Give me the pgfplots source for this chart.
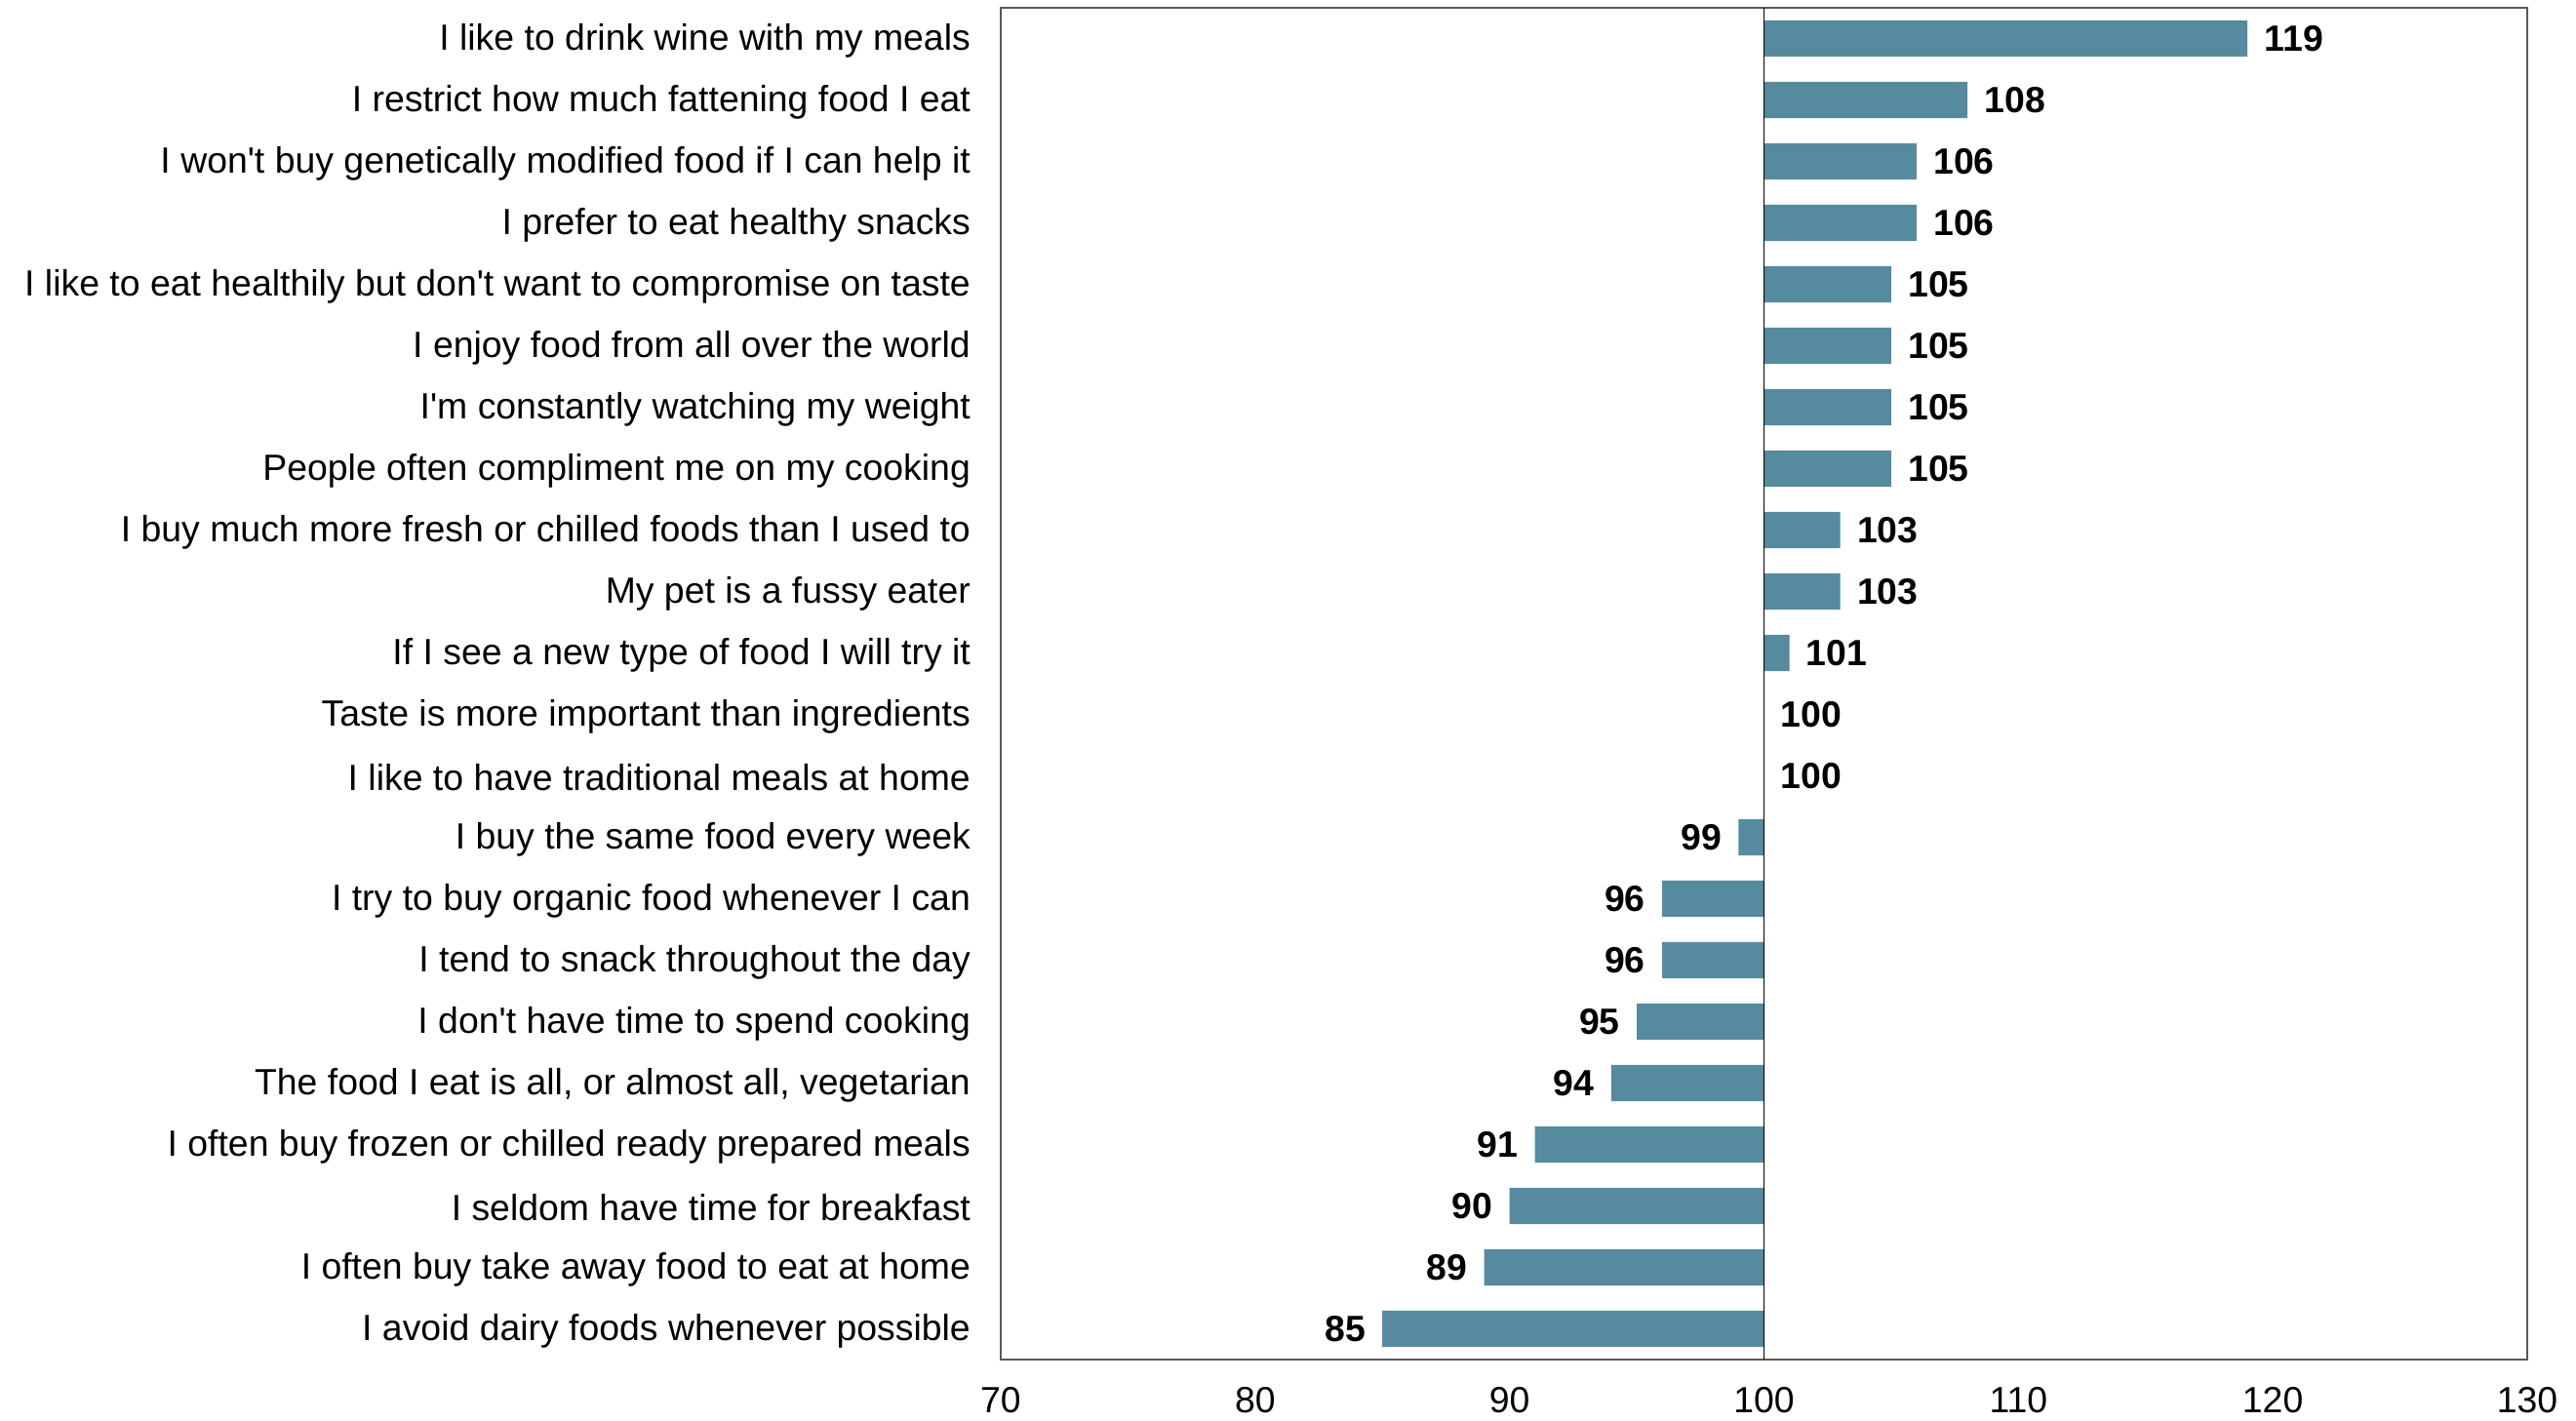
\documentclass[border=0pt]{standalone}
\usepackage{pgfplots}
\pgfplotsset{compat=1.18}
\usepackage{pgfplotstable}
\usepackage{fontspec}
\setmainfont{Liberation Sans}
\definecolor{barcol}{RGB}{86,138,159}
\pgfplotstableread{
y d v
0 19 119
1 8 108
2 6 106
3 6 106
4 5 105
5 5 105
6 5 105
7 5 105
8 3 103
9 3 103
10 1 101
11 0 100
12 0 100
}\postable
\pgfplotstableread{
y d v
13 -1 99
14 -4 96
15 -4 96
16 -5 95
17 -6 94
18 -9 91
19 -10 90
20 -11 89
21 -15 85
}\negtable
\newcommand{\q}{\textquotesingle}
\begin{document}
\begin{tikzpicture}
\useasboundingbox (-513pt,-31.5pt) rectangle (807.5pt,697pt);
\begin{axis}[
  at={(0,0)}, anchor=south west,
  scale only axis, width=782.5pt, height=693pt,
  xbar, bar width=0.59, bar shift=0pt,
  xmin=-30, xmax=30, ymin=-0.5, ymax=21.5, y dir=reverse,
  xtick={-30,-20,...,30}, xticklabels={70,80,90,100,110,120,130},
  ytick={0,...,21},
  yticklabels={
    I like to drink wine with my meals,
    I restrict how much fattening food I eat,
    I won\q t buy genetically modified food if I can help it,
    I prefer to eat healthy snacks,
    I like to eat healthily but don\q t want to compromise on taste,
    I enjoy food from all over the world,
    I\q m constantly watching my weight,
    People often compliment me on my cooking,
    I buy much more fresh or chilled foods than I used to,
    My pet is a fussy eater,
    If I see a new type of food I will try it,
    Taste is more important than ingredients,
    I like to have traditional meals at home,
    I buy the same food every week,
    I try to buy organic food whenever I can,
    I tend to snack throughout the day,
    I don\q t have time to spend cooking,
    {The food I eat is all, or almost all, vegetarian},
    I often buy frozen or chilled ready prepared meals,
    I seldom have time for breakfast,
    I often buy take away food to eat at home,
    I avoid dairy foods whenever possible},
  major tick length=0,
  axis line style={black!65, line width=1pt},
  /pgf/number format/assume math mode=true,
  tick label style={font=\fontsize{18.7}{22}\selectfont},
  xticklabel style={yshift=-10.5pt},
  yticklabel style={xshift=-12pt, yshift=-1pt},
  point meta=explicit,
  nodes near coords={\pgfmathprintnumber{\pgfplotspointmeta}},
  every node near coord/.append style={font=\fontsize{18.7}{22}\selectfont\bfseries, inner sep=8.5pt, black},
  clip=false,
]
\addplot[fill=barcol, draw=none, nodes near coords align=horizontal] table[x=d, y=y, meta=v] {\postable};
\addplot[fill=barcol, draw=none, every node near coord/.append style={anchor=east}] table[x=d, y=y, meta=v] {\negtable};
\draw[black, line width=0.5pt] (axis cs:0,-0.5) -- (axis cs:0,21.5);
\end{axis}
\end{tikzpicture}
\end{document}
